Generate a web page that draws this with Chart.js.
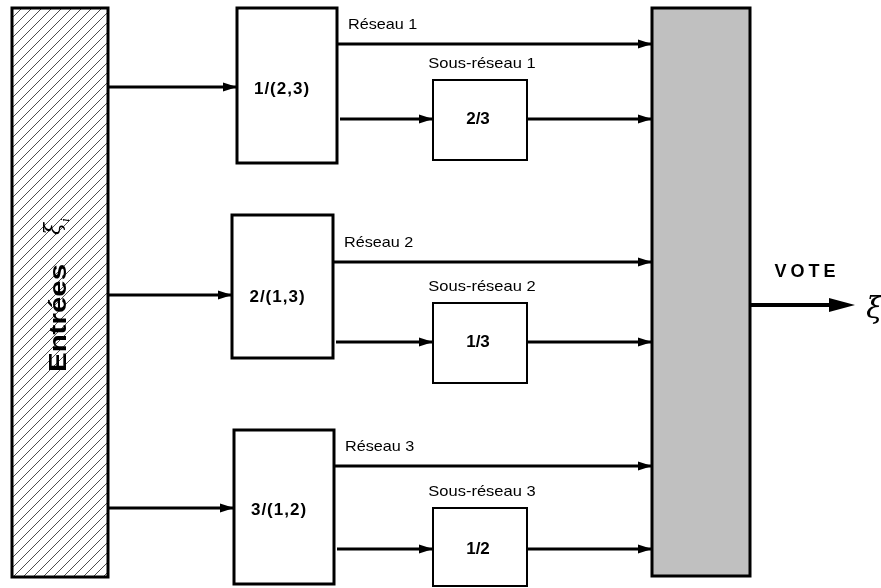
<!DOCTYPE html>
<html>
<head>
<meta charset="utf-8">
<script src="https://cdn.jsdelivr.net/npm/chart.js@4"></script>
<style>
  html, body { margin: 0; background: #fff; }
  #wrap { width: 881px; height: 588px; }
</style>
</head>
<body>
<div id="wrap"><canvas id="diagram"></canvas></div>
<script>
// texts
const mainBlocks = ['1/(2,3)', '2/(1,3)', '3/(1,2)'];
const subBlocks = ['2/3', '1/3', '1/2'];
const netLabels = ['Réseau 1', 'Réseau 2', 'Réseau 3'];
const subLabels = ['Sous-réseau 1', 'Sous-réseau 2', 'Sous-réseau 3'];
const inputLabel = 'Entrées';
const voteLabel = 'VOTE';

// layout, in the 881x588 frame units of the axes
const inputBox = { x0: 12, y0: 8, x1: 108, y1: 577 };
const voteBox = { x0: 652, y0: 8, x1: 750, y1: 576 };
const mainBox = [
  { x0: 237, y0: 8, x1: 337, y1: 163 },
  { x0: 232, y0: 215, x1: 333, y1: 358 },
  { x0: 234, y0: 430, x1: 334, y1: 584 }
];
const subBox = [
  { x0: 433, y0: 80, x1: 527, y1: 160 },
  { x0: 433, y0: 303, x1: 527, y1: 383 },
  { x0: 433, y0: 508, x1: 527, y1: 586 }
];
const inY = [87, 295, 508];
const netY = [44, 262, 466];
const subY = [119, 342, 549];
const outY = 305;

// one dataset per wire, arrowhead drawn at its last point
const wires = [];
for (let i = 0; i < 3; i++) {
  wires.push([{ x: inputBox.x1 + 1, y: inY[i] }, { x: mainBox[i].x0, y: inY[i] }]);
  wires.push([{ x: mainBox[i].x1, y: netY[i] }, { x: voteBox.x0, y: netY[i] }]);
  wires.push([{ x: mainBox[i].x1 + 3, y: subY[i] }, { x: subBox[i].x0, y: subY[i] }]);
  wires.push([{ x: subBox[i].x1, y: subY[i] }, { x: voteBox.x0, y: subY[i] }]);
}

function px(chart, x, y) {
  return [chart.scales.x.getPixelForValue(x), chart.scales.y.getPixelForValue(y)];
}

function rectOf(chart, b) {
  const [a, c] = px(chart, b.x0, b.y0);
  const [d, e] = px(chart, b.x1, b.y1);
  return [a, c, d - a, e - c];
}

function text(ctx, s, x, y, font, o = {}) {
  ctx.save();
  ctx.translate(x, y);
  if (o.rot) ctx.rotate(o.rot);
  ctx.scale(o.sx || 1, 1);
  ctx.font = font;
  ctx.fillStyle = '#000';
  ctx.textAlign = o.align || 'center';
  ctx.textBaseline = 'middle';
  if (o.spacing) ctx.letterSpacing = o.spacing;
  ctx.fillText(s, 0, 0);
  ctx.restore();
}

function arrowHead(ctx, x, y, len, half) {
  ctx.beginPath();
  ctx.moveTo(x, y);
  ctx.lineTo(x - len, y - half);
  ctx.lineTo(x - len, y + half);
  ctx.closePath();
  ctx.fill();
}

const diagramPlugin = {
  id: 'diagram',
  beforeDatasetsDraw(chart) {
    const ctx = chart.ctx;
    ctx.save();
    // inputs column, hatched
    const [ix, iy, iw, ih] = rectOf(chart, inputBox);
    ctx.save();
    ctx.beginPath();
    ctx.rect(ix, iy, iw, ih);
    ctx.clip();
    ctx.strokeStyle = '#000';
    ctx.lineWidth = 0.7;
    for (let k = -ih; k < iw + ih; k += 10) {
      ctx.beginPath();
      ctx.moveTo(ix + k, iy + ih);
      ctx.lineTo(ix + k + ih, iy);
      ctx.stroke();
    }
    ctx.restore();
    ctx.lineWidth = 3;
    ctx.strokeStyle = '#000';
    ctx.strokeRect(ix, iy, iw, ih);

    // vote column
    const [vx, vy, vw, vh] = rectOf(chart, voteBox);
    ctx.fillStyle = '#c0c0c0';
    ctx.fillRect(vx, vy, vw, vh);
    ctx.lineWidth = 3;
    ctx.strokeRect(vx, vy, vw, vh);

    ctx.fillStyle = '#fff';
    mainBox.forEach(b => {
      const r = rectOf(chart, b);
      ctx.fillRect(...r);
      ctx.lineWidth = 3;
      ctx.strokeRect(...r);
    });
    subBox.forEach(b => {
      const r = rectOf(chart, b);
      ctx.fillRect(...r);
      ctx.lineWidth = 2;
      ctx.strokeRect(...r);
    });
    ctx.restore();
  },
  afterDatasetsDraw(chart) {
    const ctx = chart.ctx;
    ctx.save();
    ctx.fillStyle = '#000';
    chart.data.datasets.forEach((ds, i) => {
      const pts = chart.getDatasetMeta(i).data;
      const p = pts[pts.length - 1];
      arrowHead(ctx, p.x, p.y, 14, 4.5);
    });
    // VOTE output
    const [ox0, oy] = px(chart, voteBox.x1, outY);
    const [ox1] = px(chart, 855, outY);
    ctx.strokeStyle = '#000';
    ctx.lineWidth = 4;
    ctx.beginPath();
    ctx.moveTo(ox0 + 1, oy);
    ctx.lineTo(ox1 - 20, oy);
    ctx.stroke();
    arrowHead(ctx, ox1, oy, 26, 7);
    ctx.restore();
  },
  afterDraw(chart) {
    const ctx = chart.ctx;
    const reg = '15px "Liberation Sans", Arial, sans-serif';
    const bold = 'bold 17px "Liberation Sans", Arial, sans-serif';
    for (let i = 0; i < 3; i++) {
      const b = mainBox[i];
      let [x, y] = px(chart, (b.x0 + b.x1) / 2 - 5, inY[i] + 2);
      text(ctx, mainBlocks[i], x, y, bold, { spacing: '1px' });
      const s = subBox[i];
      [x, y] = px(chart, (s.x0 + s.x1) / 2 - 2, subY[i]);
      text(ctx, subBlocks[i], x, y, bold);
      [x, y] = px(chart, b.x1 + 11, netY[i] - 19);
      text(ctx, netLabels[i], x, y, reg, { align: 'left', sx: 1.08 });
      [x, y] = px(chart, (s.x0 + s.x1) / 2 + 2, s.y0 - 16);
      text(ctx, subLabels[i], x, y, reg, { sx: 1.1 });
    }
    // rotated input label and symbol
    let [x, y] = px(chart, 60, 318);
    text(ctx, inputLabel, x, y, 'bold 23px "Liberation Sans", Arial, sans-serif', { rot: -Math.PI / 2, sx: 1.28 });
    [x, y] = px(chart, 54, 229);
    text(ctx, 'ξ', x, y, 'italic 22px "DejaVu Serif", serif', { rot: -Math.PI / 2 });
    [x, y] = px(chart, 66, 220);
    text(ctx, 'i', x, y, 'italic 11px "DejaVu Serif", serif', { rot: -Math.PI / 2 });
    [x, y] = px(chart, 807, 272);
    text(ctx, voteLabel, x, y, 'bold 18px "Liberation Sans", Arial, sans-serif', { spacing: '4px' });
    [x, y] = px(chart, 866, 310);
    text(ctx, 'ξ', x, y, 'italic 30px "DejaVu Serif", serif', { align: 'left' });
  }
};

new Chart(document.getElementById('diagram'), {
  type: 'scatter',
  data: {
    datasets: wires.map(w => ({
      data: w,
      showLine: true,
      borderColor: '#000',
      borderWidth: 3,
      pointRadius: 0,
      pointHoverRadius: 0
    }))
  },
  options: {
    responsive: true,
    maintainAspectRatio: false,
    animation: false,
    events: [],
    layout: { padding: 0 },
    plugins: { legend: { display: false }, tooltip: { enabled: false } },
    scales: {
      x: { type: 'linear', min: 0, max: 881, display: false },
      y: { type: 'linear', min: 0, max: 588, reverse: true, display: false }
    }
  },
  plugins: [diagramPlugin]
});
</script>
</body>
</html>
